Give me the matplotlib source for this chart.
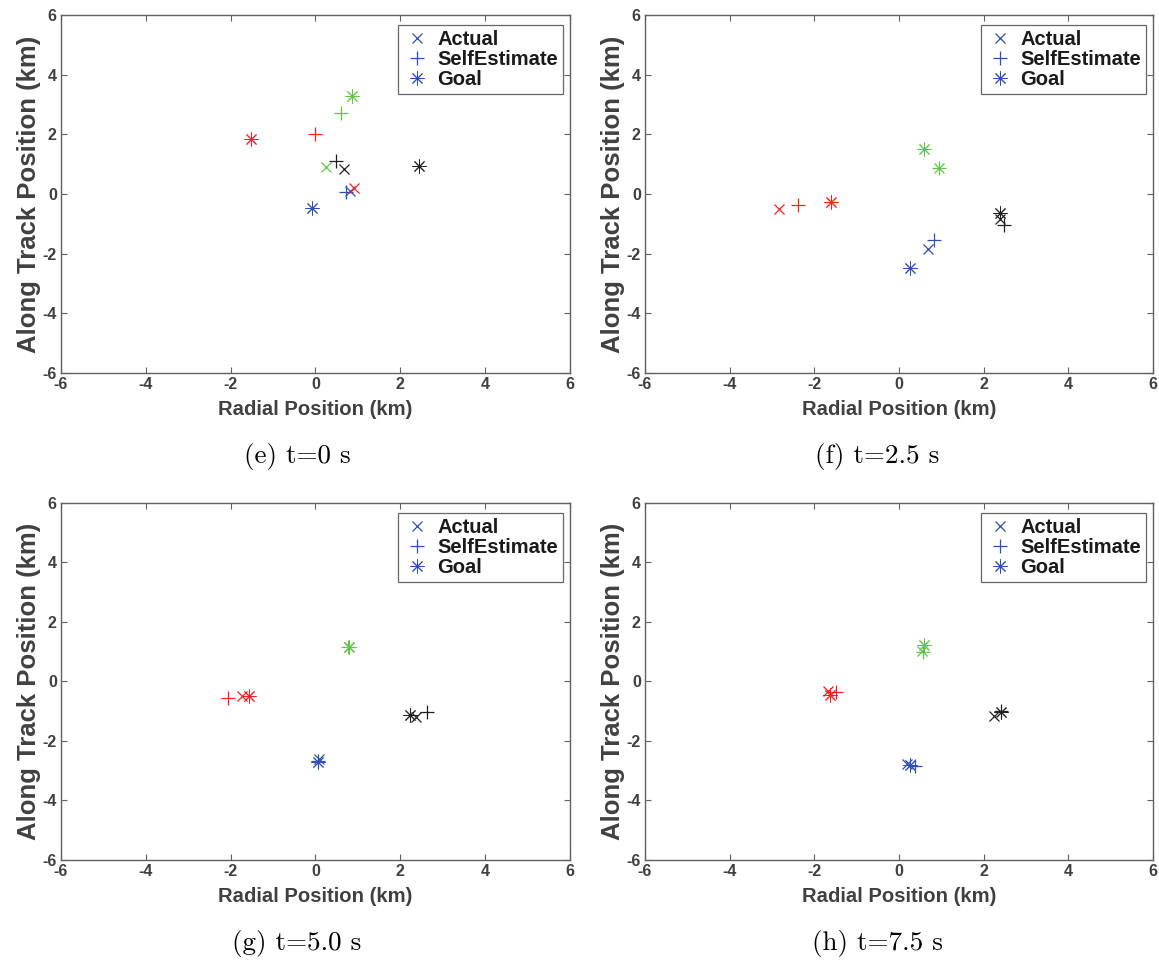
import numpy as np
import matplotlib
matplotlib.use("Agg")
import matplotlib.pyplot as plt

plt.rcParams["axes.unicode_minus"] = False

# satellites: blue, red, green, black
colors = ["#2f4fb2", "#ff1f1f", "#62c447", "#202020"]
captions = ["(e) t=0 s", "(f) t=2.5 s", "(g) t=5.0 s", "(h) t=7.5 s"]

# one row per panel, one value per satellite
actual_x = [[0.81, 0.90, 0.24, 0.67],
            [0.69, -2.83, 0.95, 2.39],
            [0.08, -1.73, 0.79, 2.36],
            [0.19, -1.67, 0.55, 2.25]]
actual_y = [[0.11, 0.19, 0.90, 0.85],
            [-1.84, -0.49, 0.87, -0.85],
            [-2.62, -0.48, 1.17, -1.18],
            [-2.79, -0.33, 1.02, -1.15]]
self_x = [[0.71, 0.00, 0.61, 0.49],
          [0.83, -2.39, 0.95, 2.49],
          [0.06, -2.07, 0.76, 2.62],
          [0.39, -1.49, 0.56, 2.42]]
self_y = [[0.06, 2.00, 2.70, 1.10],
          [-1.54, -0.37, 0.87, -1.05],
          [-2.66, -0.55, 1.15, -1.01],
          [-2.84, -0.36, 1.00, -1.00]]
goal_x = [[-0.09, -1.53, 0.87, 2.45],
          [0.25, -1.60, 0.59, 2.39],
          [0.06, -1.57, 0.79, 2.22],
          [0.25, -1.63, 0.59, 2.40]]
goal_y = [[-0.46, 1.83, 3.30, 0.95],
          [-2.49, -0.28, 1.51, -0.65],
          [-2.71, -0.48, 1.17, -1.12],
          [-2.80, -0.44, 1.22, -1.01]]

ticks = [-6, -4, -2, 0, 2, 4, 6]
asterisk = (8, 2, 0)
gray = "#404040"

fig = plt.figure(figsize=(11.59, 9.6), dpi=100)
boxes = [[0.0526, 0.6115, 0.4392, 0.3729],
         [0.5565, 0.6115, 0.4383, 0.3729],
         [0.0526, 0.1042, 0.4392, 0.3719],
         [0.5565, 0.1042, 0.4383, 0.3719]]
# caption centres (figure fraction)
cap_x = [0.2563, 0.7567, 0.2563, 0.7567]
cap_y = [0.525, 0.525, 0.0177, 0.0177]

for k in range(4):
    ax = fig.add_axes(boxes[k])
    for i in range(4):
        lab = ["Actual", "SelfEstimate", "Goal"] if i == 0 else [None] * 3
        ax.plot(actual_x[k][i], actual_y[k][i], ls="none", marker="x", ms=7,
                mew=0.9, color=colors[i], label=lab[0])
        ax.plot(self_x[k][i], self_y[k][i], ls="none", marker="+", ms=10,
                mew=0.9, color=colors[i], label=lab[1])
        ax.plot(goal_x[k][i], goal_y[k][i], ls="none", marker=asterisk, ms=10,
                mew=0.7, color=colors[i], label=lab[2])

    ax.set_xlim(-6, 6)
    ax.set_ylim(-6, 6)
    ax.set_xticks(ticks)
    ax.set_yticks(ticks)
    ax.tick_params(direction="in", top=True, right=True, length=4, width=0.8,
                   colors="#606060", labelcolor=gray, labelsize=11.5, pad=3)
    for lbl in ax.get_xticklabels() + ax.get_yticklabels():
        lbl.set_fontweight("bold")
        lbl.set_fontfamily("Liberation Sans")
    for s in ax.spines.values():
        s.set_color("#606060")
        s.set_linewidth(1.0)

    ax.set_xlabel("Radial Position (km)", fontsize=14.6, fontweight="bold",
                  color=gray, family="Liberation Sans", labelpad=6)
    ax.set_ylabel("Along Track Position (km)", fontsize=18.5, fontweight="bold",
                  color=gray, family="Liberation Sans", labelpad=1)

    leg = ax.legend(loc="upper right", bbox_to_anchor=(0.986, 0.972),
                    borderaxespad=0, handlelength=1.4, handletextpad=0.3,
                    labelspacing=0.05, borderpad=0.25, fancybox=False,
                    prop={"family": "Liberation Sans", "weight": "bold", "size": 14.5})
    leg.get_frame().set_edgecolor("#404040")
    leg.get_frame().set_linewidth(0.9)
    for t in leg.get_texts():
        t.set_color("#1a1a1a")

    fig.text(cap_x[k], cap_y[k], captions[k], ha="center", va="center",
             fontsize=19.5, family="cmr10")

plt.savefig("out.png", dpi=100)
